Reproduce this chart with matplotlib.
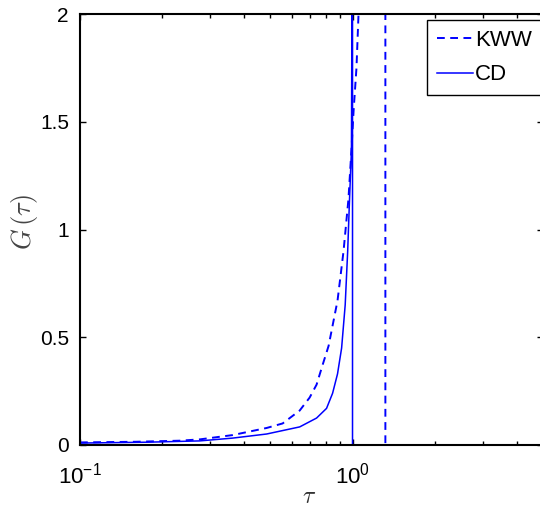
import matplotlib
matplotlib.use("Agg")
import matplotlib.pyplot as plt
from matplotlib.ticker import LogLocator, NullFormatter, FixedLocator

# === Data ===
cd_tau = [0.1, 0.176, 0.275, 0.363, 0.484, 0.64, 0.738, 0.803, 0.845, 0.881,
          0.912, 0.94, 0.96, 0.975, 0.991, 0.995, 0.998, 1.0, 1.0]
cd_g = [0.009, 0.013, 0.019, 0.032, 0.051, 0.084, 0.125, 0.17, 0.24, 0.33,
        0.45, 0.65, 0.90, 1.14, 1.37, 2.0, 2.6, 2.6, 0.0]

kww_tau = [0.1, 0.16, 0.232, 0.275, 0.363, 0.484, 0.554, 0.64, 0.696, 0.738,
           0.776, 0.817, 0.881, 0.927, 0.966, 0.991, 1.009, 1.034, 1.052,
           1.07, 1.32, 1.32]
kww_g = [0.012, 0.015, 0.02, 0.026, 0.046, 0.079, 0.10, 0.16, 0.22, 0.28,
         0.37, 0.46, 0.67, 0.90, 1.14, 1.37, 1.55, 1.75, 2.0,
         2.3, 2.3, 0.0]

y_ticks = [0, 0.5, 1, 1.5, 2]
y_labels = ["0", "0.5", "1", "1.5", "2"]

# === Style ===
plt.rcParams["font.family"] = ["Liberation Sans", "DejaVu Sans"]
plt.rcParams["mathtext.fontset"] = "custom"
plt.rcParams["mathtext.rm"] = "Liberation Sans"
plt.rcParams["mathtext.it"] = "Liberation Sans:italic"

fig = plt.figure(figsize=(5.40, 5.08), dpi=100)
W, H = 540, 508
left, right, top, bottom = 80, 543, 14, 445
ax = fig.add_axes([left / W, 1 - bottom / H, (right - left) / W, (bottom - top) / H])

ax.plot(kww_tau, kww_g, color="#0000ff", lw=1.4, linestyle=(0, (4, 2.8)), label="KWW")
ax.plot(cd_tau, cd_g, color="#0000ff", lw=1.1, label="CD")

ax.set_xscale("log")
ax.set_xlim(0.1, 5)
ax.set_ylim(0, 2)

ax.xaxis.set_major_locator(LogLocator(base=10))
ax.xaxis.set_minor_locator(LogLocator(base=10, subs=range(2, 10)))
ax.xaxis.set_minor_formatter(NullFormatter())
ax.yaxis.set_major_locator(FixedLocator(y_ticks))
ax.set_yticklabels(y_labels)

ax.tick_params(which="both", direction="in", top=True, right=True, width=1.0)
ax.tick_params(which="major", length=4)
ax.tick_params(axis="y", pad=8, labelsize=15)
ax.tick_params(axis="x", pad=13, labelsize=16)
ax.tick_params(which="minor", length=3)
for s in ax.spines.values():
    s.set_linewidth(1.5)

ax.set_xlabel(r"$\tau$", fontsize=17, color="#333333", math_fontfamily="cm")
ax.xaxis.set_label_coords((309 - left) / (right - left), -(486 - bottom) / (bottom - top))
ax.set_ylabel(r"$G\,(\tau)$", fontsize=19, color="#444444", math_fontfamily="cm")
ax.yaxis.set_label_coords(-(80 - 40) / (right - left), 0.517)

leg = ax.legend(loc="upper left", bbox_to_anchor=(427 / W, 1 - 20 / H),
                bbox_transform=fig.transFigure, fontsize=16, frameon=True,
                fancybox=False, framealpha=1, edgecolor="black",
                handlelength=1.6, handletextpad=0.1, labelspacing=0.6,
                borderpad=0.45, borderaxespad=0)
leg.get_frame().set_linewidth(1.0)

fig.savefig("out.png", dpi=100)
plt.close(fig)
